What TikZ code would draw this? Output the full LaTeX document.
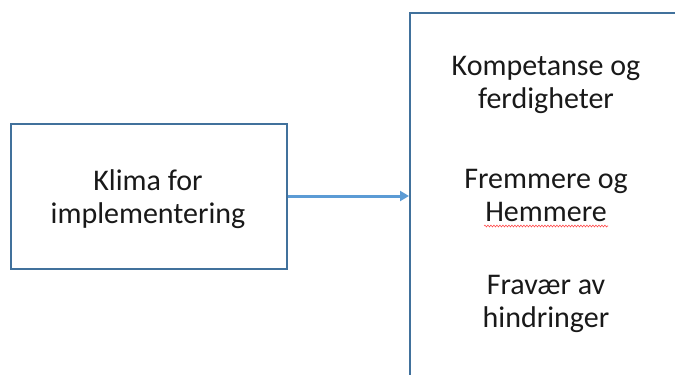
\documentclass[tikz,border=0pt]{standalone}
\usepackage{fontspec}
\setmainfont{Carlito}
\usetikzlibrary{arrows.meta,decorations.pathmorphing}
\definecolor{boxblue}{HTML}{41719C}
\definecolor{arrowblue}{HTML}{5B9BD5}
\tikzset{
  txt/.style={font=\fontsize{30}{33}\selectfont, align=center, text=black!90, inner sep=0pt},
  frame/.style={draw=boxblue, line width=1.6pt},
  conn/.style={draw=arrowblue, line width=3pt, -{Triangle[length=9pt,width=10pt]}},
  spell/.style={draw=red!70, line width=0.6pt, decorate, decoration={snake, amplitude=0.9pt, segment length=3pt}}
}
\begin{document}
\begin{tikzpicture}[x=1pt,y=1pt]
\useasboundingbox (0,0) rectangle (675,-375);
\clip (0,0) rectangle (675,-375);
\node[frame, minimum width=276pt, minimum height=145pt, anchor=north west] (left) at (10,-123) {};
\node[txt] (lt) at (148,-199) {Klima for\\implementering};
\node[frame, minimum width=300pt, minimum height=400pt, anchor=north west] (right) at (409,-12) {};
\node[txt] (r1) at (546,-85) {Kompetanse og\\ferdigheter};
\node[txt] (r2) at (546,-195) {Fremmere og\\Hemmere};
\node[txt] (r3) at (546,-304) {Fravær av\\hindringer};
\coordinate (ul1) at (484,-226);
\coordinate (ul2) at (608,-226);
\draw[spell] (ul1) -- (ul2);
\coordinate (tipin) at (409,-196);
\draw[conn] (left.east |- tipin) -- (tipin);
\end{tikzpicture}
\end{document}
